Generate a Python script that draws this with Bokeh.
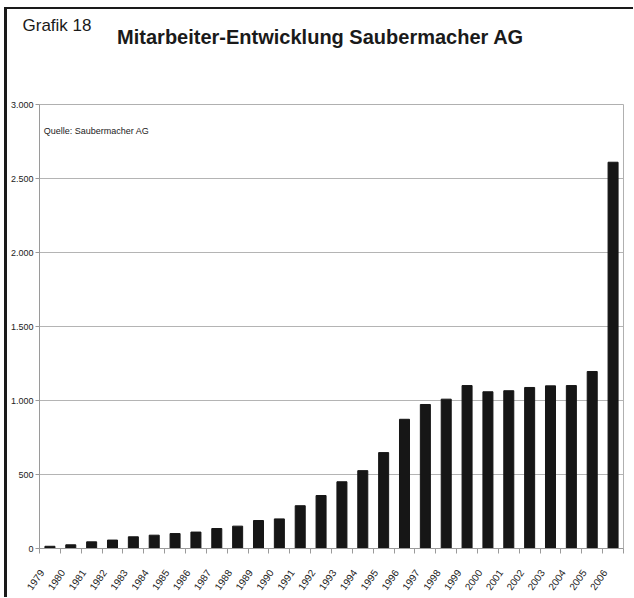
from bokeh.plotting import figure
from bokeh.layouts import column
from bokeh.models import Range1d, FixedTicker, Label, ColumnDataSource
from bokeh.embed import file_html
from bokeh.resources import INLINE
from bokeh.core.properties import value

years = [str(y) for y in range(1979, 2007)]
employees = [15, 25, 45, 57, 79, 90, 101, 111, 135, 151, 189, 200, 289, 358,
             451, 526, 648, 873, 973, 1009, 1101, 1059, 1066, 1088, 1099, 1101, 1196, 2610]
y_ticks = [0, 500, 1000, 1500, 2000, 2500, 3000]
y_tick_labels = ["0", "500", "1.000", "1.500", "2.000", "2.500", "3.000"]

chart_title = "Mitarbeiter-Entwicklung Saubermacher AG"
fig_label = "Grafik 18"
source_note = "Quelle: Saubermacher AG"

FONT = "Liberation Sans"
W = 626

# ---- header (title area) ----
head = figure(width=W, height=79, output_backend="svg", toolbar_location=None,
              x_range=Range1d(0, W), y_range=Range1d(0, 79),
              x_axis_location=None, y_axis_location=None,
              min_border=0, min_border_left=0, min_border_right=0,
              min_border_top=0, min_border_bottom=0)
head.frame_align = False
head.grid.visible = False
head.outline_line_color = None
head.background_fill_color = "white"
head.border_fill_color = "white"
head.text(x=[15], y=[63], text=[fig_label], text_font=value(FONT), text_font_size="17px",
          text_color="#1a1a1a", text_baseline="alphabetic", text_align="left")
head.text(x=[313], y=[51.5], text=[chart_title], text_font=value(FONT), text_font_size="20px",
          text_font_style="bold", text_color="#1a1a1a", text_baseline="alphabetic",
          text_align="center")

# ---- chart ----
idx = list(range(len(years)))
src = ColumnDataSource(dict(x=idx, y=employees))

p = figure(width=W, height=509, output_backend="svg", toolbar_location=None,
           x_range=Range1d(-0.5, len(years) - 0.5), y_range=Range1d(0, 3000),
           min_border_left=32, min_border_right=10, min_border_top=16, min_border_bottom=49)
p.frame_align = False
p.background_fill_color = "white"
p.border_fill_color = "white"
p.outline_line_color = "#b0b0b0"
p.outline_line_width = 1

p.vbar(x="x", top="y", width=0.48, source=src, fill_color="#161616", line_color="#161616")

# y axis
p.yaxis.ticker = FixedTicker(ticks=y_ticks)
p.yaxis.major_label_overrides = {t: l for t, l in zip(y_ticks, y_tick_labels)}
p.yaxis.axis_line_color = "#9a9a9a"
p.yaxis.major_tick_line_color = "#9a9a9a"
p.yaxis.major_tick_out = 4
p.yaxis.major_tick_in = 0
p.yaxis.minor_tick_line_color = None
p.yaxis.major_label_text_font = FONT
p.yaxis.major_label_text_font_size = "9px"
p.yaxis.major_label_text_color = "#222222"
p.yaxis.major_label_standoff = 2

# x axis: labels slightly left of bar centres, small ticks at category boundaries
p.xaxis.ticker = FixedTicker(ticks=[i - 0.4 for i in idx],
                             minor_ticks=[-0.5] + [i + 0.5 for i in idx])
p.xaxis.major_label_overrides = {i - 0.4: y for i, y in zip(idx, years)}
p.xaxis.major_label_orientation = 0.96
p.xaxis.major_label_text_font = FONT
p.xaxis.major_label_text_font_size = "10px"
p.xaxis.major_label_text_color = "#222222"
p.xaxis.axis_line_color = "#9a9a9a"
p.xaxis.major_tick_line_color = None
p.xaxis.major_tick_out = 0
p.xaxis.major_tick_in = 0
p.xaxis.minor_tick_line_color = "#9a9a9a"
p.xaxis.minor_tick_out = 5
p.xaxis.minor_tick_in = 0
p.xaxis.major_label_standoff = 17

p.xgrid.grid_line_color = None
p.ygrid.grid_line_color = "#b4b4b4"
p.ygrid.grid_line_width = 1

p.add_layout(Label(x=-0.3, y=2820, text=source_note, text_font=FONT,
                   text_font_size="9px", text_color="#222222", text_baseline="middle"))

layout = column(head, p, spacing=0)
layout.styles = {"margin-left": "4px", "margin-top": "7px",
                 "border-left": "3px solid #1a1a1a", "border-top": "2px solid #1a1a1a"}

open("out.html", "w").write(file_html(layout, INLINE))
